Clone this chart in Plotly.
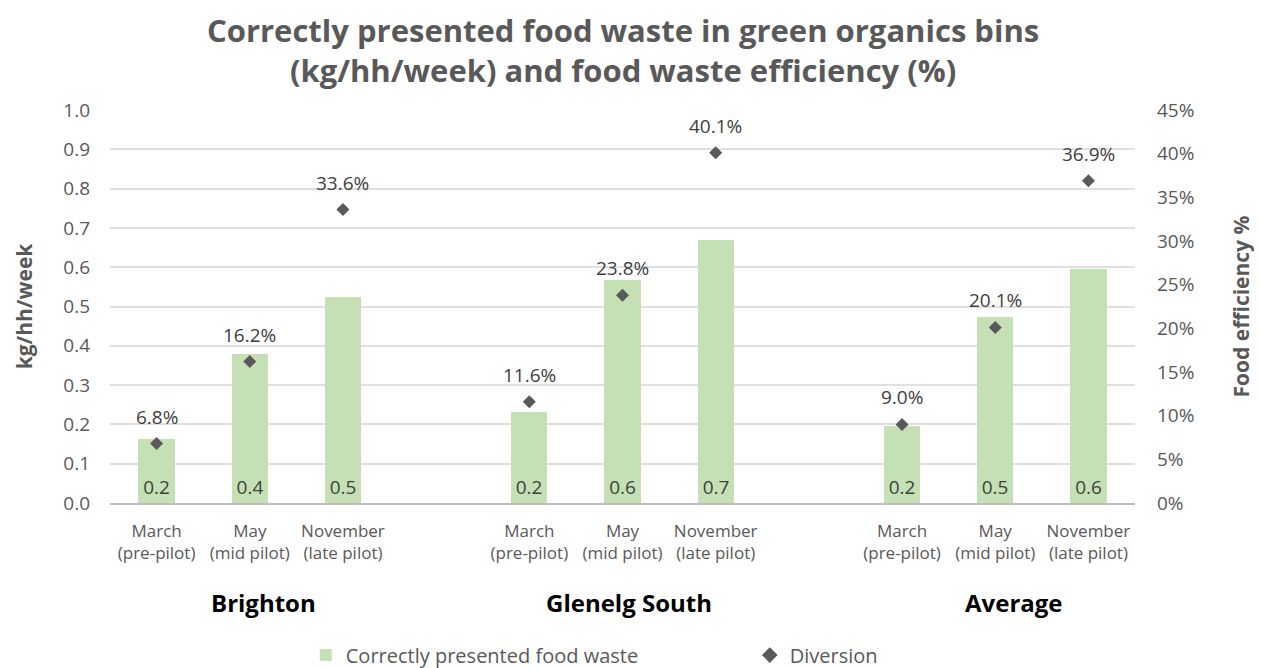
import plotly.graph_objects as go

# Survey rounds, repeated for each area
periods = ["March<br>(pre-pilot)", "May<br>(mid pilot)", "November<br>(late pilot)"]
areas = ["Brighton", "Glenelg South", "Average"]

# Correctly presented food waste, kg per household per week
food_waste = [0.163, 0.379, 0.523,
              0.231, 0.567, 0.668,
              0.196, 0.473, 0.595]

# Food waste diversion efficiency (fraction)
diversion = [0.068, 0.162, 0.336,
             0.116, 0.238, 0.401,
             0.090, 0.201, 0.369]

# Category slots: three per area with one empty slot between areas
xpos = []
xlabels = []
for g in range(len(areas)):
    for p in range(len(periods)):
        xpos.append(g * 4 + p)
        xlabels.append(periods[p])

FONT = "Open Sans"
GREY = "#595959"
DARK = "#404040"

# Plot area geometry in pixels
W, H = 1261, 668
M_L, M_R, M_T, M_B = 110, 126, 110, 165
PLOT_H = H - M_T - M_B

fig = go.Figure()

fig.add_trace(go.Bar(
    x=xpos, y=food_waste,
    name="Correctly presented food waste",
    marker=dict(color="#c5e0b4", line=dict(width=0)),
    width=0.39,
    texttemplate="%{y:.1f}",
    textposition="inside",
    insidetextanchor="start",
    textangle=0,
    insidetextfont=dict(family=FONT, size=19, color=DARK),
    constraintext="none",
    yaxis="y",
))

fig.add_trace(go.Scatter(
    x=xpos, y=diversion,
    name="Diversion",
    mode="markers",
    marker=dict(symbol="diamond", size=10, color=GREY),
    yaxis="y2",
    cliponaxis=False,
))

# Percentage labels above the diversion markers
for xv, dv in zip(xpos, diversion):
    fig.add_annotation(
        x=xv, y=dv, xref="x", yref="y2",
        text=f"{dv * 100:.1f}%", showarrow=False,
        xanchor="center", yanchor="middle", yshift=27,
        font=dict(family=FONT, size=19, color=DARK),
    )

# Area names under the category labels
group_offsets = [0.15, 0.07, 0.2]
for g, name in enumerate(areas):
    fig.add_annotation(
        x=g * 4 + 1 + group_offsets[g], xref="x",
        y=-0.252, yref="paper",
        text=f"<b>{name}</b>", showarrow=False,
        xanchor="center", yanchor="middle",
        font=dict(family=FONT, size=24, color="#000000"),
    )

# Two-line chart title, centred 50 px below the top edge
fig.add_annotation(
    x=0.5, xref="paper",
    y=1 + (M_T - 50) / PLOT_H, yref="paper",
    text="<b>Correctly presented food waste in green organics bins<br>(kg/hh/week) and food waste efficiency (%)</b>",
    showarrow=False, xanchor="center", yanchor="middle",
    font=dict(family=FONT, size=31, color=GREY),
)

fig.update_layout(
    width=W, height=H,
    autosize=False,
    paper_bgcolor="white", plot_bgcolor="white",
    margin=dict(l=M_L, r=M_R, t=M_T, b=M_B, autoexpand=False),
    font=dict(family=FONT, color=GREY),
    bargap=0,
    showlegend=True,
    legend=dict(
        orientation="h",
        x=0.191, xanchor="left",
        y=-0.387, yanchor="middle",
        font=dict(family=FONT, size=20, color=GREY),
        itemsizing="constant",
        entrywidth=399, entrywidthmode="pixels",
    ),
    xaxis=dict(
        range=[-0.5, 10.5],
        tickmode="array", tickvals=xpos, ticktext=xlabels,
        tickfont=dict(family=FONT, size=17, color=GREY),
        showgrid=False, zeroline=False,
        showline=True, linecolor="#bfbfbf", linewidth=1.5,
        ticks="", ticklabelstandoff=12,
        fixedrange=True,
    ),
    yaxis=dict(
        range=[0, 1.0], dtick=0.1, tickformat=".1f",
        tickfont=dict(family=FONT, size=19, color=GREY),
        showgrid=True, gridcolor="#e0e0e0", gridwidth=1.5,
        zeroline=False, showline=False,
        ticks="", ticklabelstandoff=19,
        title=dict(text="<b>kg/hh/week</b>", font=dict(family=FONT, size=21, color=GREY), standoff=24),
    ),
    yaxis2=dict(
        range=[0, 0.45], dtick=0.05, tickformat=".0%",
        overlaying="y", side="right",
        tickfont=dict(family=FONT, size=19, color=GREY),
        showgrid=False, zeroline=False, showline=False,
        ticks="", ticklabelstandoff=21,
        title=dict(text="<b>Food efficiency %</b>", font=dict(family=FONT, size=21, color=GREY), standoff=40),
    ),
)

fig.write_html("out.html")
